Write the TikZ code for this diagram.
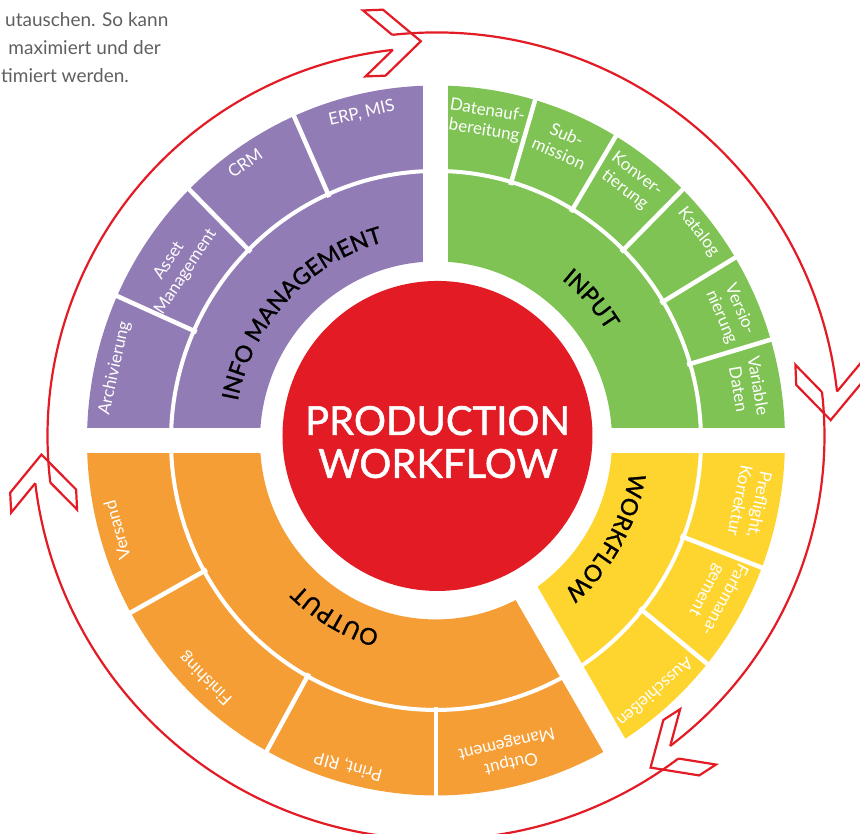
\documentclass[tikz,border=0pt]{standalone}
\usepackage{fontspec}
\setmainfont{Lato}
\newfontfamily\semib{Lato}[FakeBold=1.2]
\usetikzlibrary{decorations.text}
\definecolor{cPurple}{RGB}{146,124,181}
\definecolor{cGreen}{RGB}{126,195,84}
\definecolor{cYellow}{RGB}{254,213,47}
\definecolor{cOrange}{RGB}{246,158,54}
\definecolor{cRed}{RGB}{226,27,36}
\definecolor{cGray}{RGB}{95,95,95}
\newcommand\ringsector[3]{\fill[#1] (#2:176) arc[start angle=#2, end angle=#3, radius=176] -- (#3:349) arc[start angle=#3, end angle=#2, radius=349] -- cycle;}
\newcommand\chevron[1]{%
  \begin{scope}[shift={(#1:395)}, rotate=#1-90]
    \draw[cycleline] (-28.3,7.5) -- (-56.6,33) -- (-36.6,33) -- (0,0) -- (-36.6,-33) -- (-56.6,-33) -- (-28.3,-7.5);
  \end{scope}}
\newcommand\innerlabel[4]{%
  \path[decorate, decoration={text along path, text align=center, text color=black,
    text={|\semib\fontsize{23}{23}\selectfont|#1}}] (#2:#4) arc[start angle=#2, end angle=#3, radius=#4];}
\begin{document}
\begin{tikzpicture}[x=1pt, y=1.017pt,
  olab/.style={text=white, font=\fontsize{17}{20}\selectfont, align=center, inner sep=0pt},
  cycleline/.style={cRed, line width=2.2pt, line join=miter},
  divider/.style={white, line width=4.5pt},
  para/.style={text=cGray, font=\fontsize{19}{19}\selectfont, anchor=base west, inner sep=0pt},
  title/.style={text=white, font=\semib\fontsize{40}{40}\selectfont, anchor=base, inner sep=0pt}]
\useasboundingbox (-436,-386.9) rectangle (424,433.1);
% ring sectors
\ringsector{cPurple}{90}{180}
\ringsector{cGreen}{0}{90}
\ringsector{cYellow}{-60}{0}
\ringsector{cOrange}{180}{300}
% white gaps
\fill[white] (-12.5,0) rectangle (12.5,365);
\fill[white] (-365,-12.3) rectangle (365,12.3);
\fill[white, rotate=-60] (0,-10.5) rectangle (365,14.5);
% separator between inner and outer ring
\draw[white, line width=4pt] (0,0) circle[radius=265];
% radial dividers
\foreach \a in {114,135,156,73.5,59,45,31,16.5,-21,-39,209,241,270}
  \draw[divider] (\a:262) -- (\a:352);
% inner ring labels
\innerlabel{INFO MANAGEMENT}{177}{97}{202}
\innerlabel{INPUT}{72}{12}{202}
\innerlabel{WORKFLOW}{-5}{-53.6}{196}
\innerlabel{OUTPUT}{285}{195}{196}
% outer ring labels
\node[olab, rotate=13] (erp) at (103:330) {ERP, MIS};
\node[olab, rotate=35] (crm) at (125:333) {CRM};
\node[olab, rotate=56.5] (asset) at (146.5:310) {Asset\\Management};
\node[olab, rotate=77.5] (arch) at (167.5:329) {Archivierung};
\node[olab, rotate=-9] (daten) at (81:318) {Datenauf-\\bereitung};
\node[olab, rotate=-23.5] (sub) at (66.5:318) {Sub-\\mission};
\node[olab, rotate=-37.5] (konv) at (52.5:320) {Konver-\\tierung};
\node[olab, rotate=-52] (kat) at (38:333) {Katalog};
\node[olab, rotate=-67] (vers) at (23:320) {Versio-\\nierung};
\node[olab, rotate=-80.5] (var) at (9.5:317) {Variable\\Daten};
\node[olab, rotate=-101] (pre) at (-11:320) {Preflight,\\Korrektur};
\node[olab, rotate=-118.5] (farb) at (-28.5:318) {Farbmana-\\gement};
\node[olab, rotate=-138.5] (aus) at (-48.5:331) {Ausschießen};
\node[olab, rotate=105.5] (versand) at (195.5:331) {Versand};
\node[olab, rotate=135.5] (fin) at (225.5:328) {Finishing};
\node[olab, rotate=164.7] (print) at (254.7:332) {Print, RIP};
\node[olab, rotate=193.3] (outm) at (283.3:316) {Output\\Management};
% centre, cycle and paragraph (pixel-true frame)
\begin{scope}[shift={(0,4.425)}, y=1pt]
  \fill[cRed] (1.5,0) circle[radius=155];
  \node[title] (prod) at (1.5,1) {PRODUCTION};
  \node[title] (wfl) at (2,-41.9) {WORKFLOW};
  % cycle arcs
  \draw[cycleline] (96.22:403.5) arc[start angle=96.22, end angle=6.32, radius=403.5];
  \draw[cycleline] (6.48:388.5) arc[start angle=6.48, end angle=-52.92, radius=388.5];
  \draw[cycleline] (-53.08:403.5) arc[start angle=-53.08, end angle=-173.28, radius=403.5];
  \draw[cycleline] (186.88:388.5) arc[start angle=186.88, end angle=96.38, radius=388.5];
  \chevron{92.2}
  \chevron{2.3}
  \chevron{-57.1}
  \chevron{182.7}
  % paragraph fragment
  \node[para] (p1) at (-431,409.3) {utauschen. So kann};
  \node[para] (p2) at (-427.7,381) {maximiert und der};
  \node[para] (p3) at (-435,353) {timiert werden.};
\end{scope}
\end{tikzpicture}
\end{document}
